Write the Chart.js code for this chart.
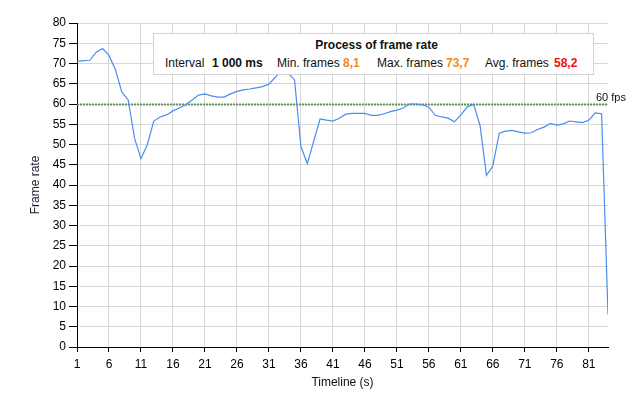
<!DOCTYPE html>
<html>
<head>
<meta charset="utf-8">
<script src="https://cdn.jsdelivr.net/npm/chart.js@4.4.1/dist/chart.umd.min.js"></script>
<style>
  html, body { margin: 0; padding: 0; background: #fff; }
  #wrap { position: relative; width: 628px; height: 404px; font-family: "Liberation Sans", Arial, sans-serif; }
  #box { position: absolute; left: 153px; top: 33px; width: 441px; height: 42px; box-sizing: border-box;
         border: 1px solid #d2d2d2; background: #fff; font-size: 12px; color: #111; }
  #box .t { position: absolute; left: 0; width: 100%; top: 4px; text-align: center; font-weight: bold; line-height: 14px; padding-left: 6px; box-sizing: border-box; }
  #box .s { position: absolute; top: 22px; line-height: 14px; white-space: nowrap; }
  #box .b { font-weight: bold; }
  #box .o { font-weight: bold; color: #f28a24; }
  #box .r { font-weight: bold; color: #ee1111; }
</style>
</head>
<body>
<div id="wrap">
  <canvas id="c" width="628" height="404"></canvas>
  <div id="box">
    <div class="t" id="boxTitle"></div>
    <span class="s" style="left:11px" id="l1"></span>
    <span class="s b" style="left:58px" id="v1"></span>
    <span class="s" style="left:123px" id="l2"></span>
    <span class="s o" style="left:189px" id="v2"></span>
    <span class="s" style="left:223px" id="l3"></span>
    <span class="s o" style="left:292px" id="v3"></span>
    <span class="s" style="left:331px" id="l4"></span>
    <span class="s r" style="left:400px" id="v4"></span>
  </div>
</div>
<script>
// ---- data ----
const seconds = [];
for (let s = 1; s <= 84; s++) seconds.push(s);
const frameRate = [
  70.5, 70.7, 70.8, 72.8, 73.7, 72.0, 68.5, 63.0, 61.0, 51.5,
  46.5, 50.0, 55.8, 56.8, 57.3, 58.3, 59.0, 59.8, 61.0, 62.2,
  62.5, 62.0, 61.7, 61.7, 62.5, 63.1, 63.5, 63.7, 64.0, 64.3,
  64.9, 66.6, 68.5, 67.6, 66.0, 49.5, 45.3, 50.8, 56.3, 56.0,
  55.8, 56.5, 57.5, 57.7, 57.7, 57.7, 57.2, 57.2, 57.6, 58.1,
  58.5, 59.0, 60.0, 60.0, 59.8, 59.2, 57.2, 56.8, 56.5, 55.6,
  57.3, 59.3, 59.9, 54.7, 42.4, 44.7, 52.8, 53.3, 53.5, 53.1,
  52.8, 52.9, 53.7, 54.3, 55.2, 54.8, 55.1, 55.8, 55.6, 55.4,
  56.0, 57.8, 57.6, 8.1
];
const xTickValues = [1, 6, 11, 16, 21, 26, 31, 36, 41, 46, 51, 56, 61, 66, 71, 76, 81];
const yTickValues = [0, 5, 10, 15, 20, 25, 30, 35, 40, 45, 50, 55, 60, 65, 70, 75, 80];
const targetFps = 60;
const targetLabel = "60 fps";
const boxTitle = "Process of frame rate";
const statLabels = ["Interval", "Min. frames", "Max. frames", "Avg. frames"];
const statValues = ["1 000 ms", "8,1", "73,7", "58,2"];
const xTitle = "Timeline (s)";
const yTitle = "Frame rate";

// ---- legend box text ----
document.getElementById('boxTitle').textContent = boxTitle;
['l1','l2','l3','l4'].forEach((id, i) => document.getElementById(id).textContent = statLabels[i]);
['v1','v2','v3','v4'].forEach((id, i) => document.getElementById(id).textContent = statValues[i]);

const FONT = "'Liberation Sans', Arial, sans-serif";

const targetLine = {
  id: 'targetLine',
  beforeDatasetsDraw(chart) {
    const {ctx, chartArea, scales} = chart;
    const y = Math.round(scales.y.getPixelForValue(targetFps)) + 0.5;
    ctx.save();
    ctx.strokeStyle = '#5f9a55';
    ctx.lineWidth = 2;
    ctx.setLineDash([2, 1]);
    ctx.beginPath();
    ctx.moveTo(chartArea.left, y);
    ctx.lineTo(chartArea.right, y);
    ctx.stroke();
    ctx.setLineDash([]);
    ctx.fillStyle = '#111';
    ctx.font = "11px " + FONT;
    ctx.textAlign = 'left';
    ctx.textBaseline = 'middle';
    ctx.fillText(targetLabel, chartArea.right - 12, y - 7);
    ctx.restore();
  }
};

new Chart(document.getElementById('c'), {
  type: 'line',
  data: {
    datasets: [{
      data: seconds.map((s, i) => ({x: s, y: frameRate[i]})),
      borderColor: '#4a8ef0',
      borderWidth: 1.2,
      pointRadius: 0,
      tension: 0,
      fill: false
    }]
  },
  options: {
    responsive: false,
    animation: false,
    devicePixelRatio: 1,
    layout: { padding: { left: 0, right: 20, top: 23, bottom: 10 } },
    plugins: { legend: { display: false }, tooltip: { enabled: false } },
    scales: {
      x: {
        type: 'linear',
        min: 1, max: 84,
        afterBuildTicks: (s) => { s.ticks = xTickValues.map(v => ({value: v})); },
        afterFit: (s) => { s.height = 47; },
        grid: { color: '#d8d8d8', tickColor: '#000', tickLength: 5, drawTicks: true },
        border: { color: '#000', width: 1 },
        ticks: { color: '#000', font: { size: 12, family: FONT }, padding: 5, maxRotation: 0, autoSkip: false },
        title: { display: true, text: xTitle, color: '#111', font: { size: 12, family: FONT }, padding: { top: 0, bottom: 4 } }
      },
      y: {
        type: 'linear',
        min: 0, max: 80,
        afterBuildTicks: (s) => { s.ticks = yTickValues.map(v => ({value: v})); },
        afterFit: (s) => { s.width = 77; },
        grid: { color: '#d8d8d8', tickColor: '#000', tickLength: 8, drawTicks: true },
        border: { color: '#000', width: 1 },
        ticks: { color: '#000', font: { size: 12, family: FONT }, padding: 3, autoSkip: false },
        title: { display: true, text: yTitle, color: '#1a1a2e', font: { size: 12, family: FONT }, padding: { top: 28, bottom: 0 } }
      }
    }
  },
  plugins: [targetLine]
});
</script>
</body>
</html>
